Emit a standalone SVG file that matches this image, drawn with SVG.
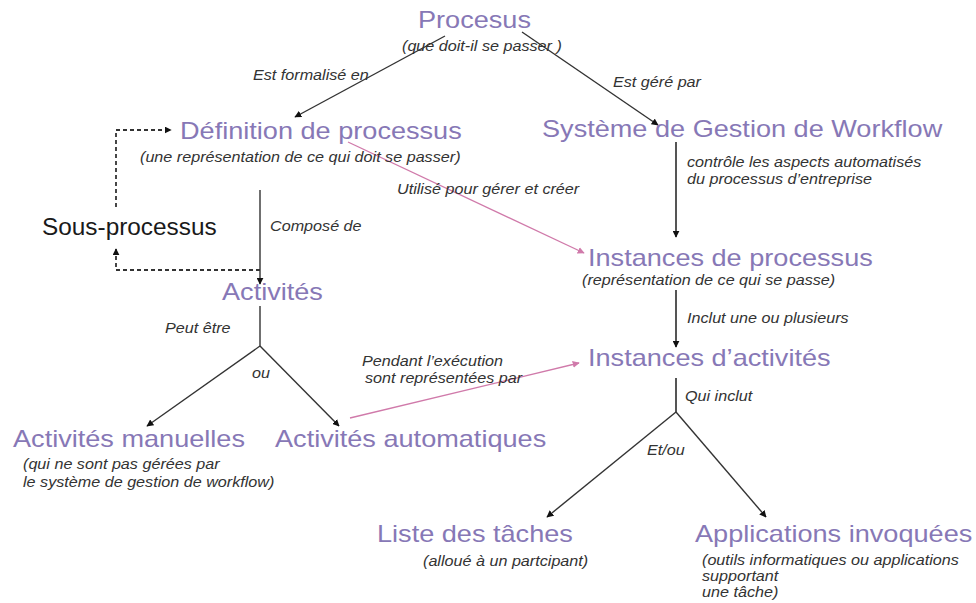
<svg xmlns="http://www.w3.org/2000/svg" width="976" height="603" viewBox="0 0 976 603">
<style>
.t{font-family:"Liberation Sans",Arial,sans-serif;font-size:24px;fill:#8778b6}
.s{font-family:"Liberation Sans",Arial,sans-serif;font-size:14.3px;font-style:italic;fill:#333}
.b{font-family:"Liberation Sans",Arial,sans-serif;font-size:23px;fill:#1a1a1a}
.ln{stroke:#333;stroke-width:1.4;fill:none}
.gr{stroke:#555;stroke-width:2;fill:none}
.pk{stroke:#d07aaa;stroke-width:1.3;fill:none}
.ds{stroke:#333;stroke-width:1.8;fill:none;stroke-dasharray:4 3}
</style>
<defs>
<marker id="ah" viewBox="0 0 10 10" refX="9" refY="5" markerWidth="7" markerHeight="7" markerUnits="userSpaceOnUse" orient="auto"><path d="M0,0 L10,5 L0,10 z" fill="#111"/></marker>
<marker id="ap" viewBox="0 0 10 10" refX="9" refY="5" markerWidth="7" markerHeight="7" markerUnits="userSpaceOnUse" orient="auto"><path d="M0,0 L10,5 L0,10 z" fill="#d07aaa"/></marker>
</defs>
<rect width="976" height="603" fill="#fff"/>
<g id="connectors">
<line class="ln" x1="445" y1="36" x2="295" y2="117" marker-end="url(#ah)"/>
<line class="ln" x1="522" y1="32" x2="658" y2="125" marker-end="url(#ah)"/>
<line class="ln" x1="260" y1="190" x2="260" y2="284" marker-end="url(#ah)"/>
<line class="gr" x1="676" y1="142" x2="676" y2="237" marker-end="url(#ah)"/>
<line class="pk" x1="348" y1="142" x2="584" y2="253" marker-end="url(#ap)"/>
<line class="gr" x1="676" y1="290" x2="676" y2="347" marker-end="url(#ah)"/>
<polyline class="ds" points="260,270 116,270 116,249" marker-end="url(#ah)"/>
<polyline class="ds" points="116,207 116,130 171,130" marker-end="url(#ah)"/>
<line class="ln" x1="260" y1="306" x2="260" y2="346"/>
<line class="ln" x1="260" y1="346" x2="147" y2="426" marker-end="url(#ah)"/>
<line class="ln" x1="260" y1="346" x2="339" y2="426" marker-end="url(#ah)"/>
<line class="pk" x1="350" y1="418" x2="579" y2="363" marker-end="url(#ap)"/>
<line class="gr" x1="676" y1="378" x2="676" y2="412"/>
<line class="ln" x1="676" y1="412" x2="547" y2="517" marker-end="url(#ah)"/>
<line class="ln" x1="676" y1="412" x2="766" y2="517" marker-end="url(#ah)"/>
<text class="s" transform="translate(253,80) scale(1.13,1)">Est formalisé en</text>
<text class="s" transform="translate(613,87) scale(1.13,1)">Est géré par</text>
<text class="s" transform="translate(687,167) scale(1.13,1)">contrôle les aspects automatisés</text>
<text class="s" transform="translate(687,184) scale(1.13,1)">du processus d’entreprise</text>
<text class="s" transform="translate(397,194) scale(1.13,1)">Utilisé pour gérer et créer</text>
<text class="s" transform="translate(270,231) scale(1.13,1)">Composé de</text>
<text class="s" transform="translate(165,333) scale(1.13,1)">Peut être</text>
<text class="s" transform="translate(252,378) scale(1.13,1)">ou</text>
<text class="s" transform="translate(687,323) scale(1.13,1)">Inclut une ou plusieurs</text>
<text class="s" transform="translate(362,366) scale(1.13,1)">Pendant l’exécution</text>
<text class="s" transform="translate(365,383) scale(1.13,1)">sont représentées par</text>
<text class="s" transform="translate(685,401) scale(1.13,1)">Qui inclut</text>
<text class="s" transform="translate(647,455) scale(1.13,1)">Et/ou</text>
</g>
<g id="procesus">
<text class="t" transform="translate(418,28) scale(1.13,1)">Procesus</text>
<text class="s" transform="translate(402,51) scale(1.13,1)">(que doit-il se passer )</text>
</g>
<g id="definition">
<text class="t" transform="translate(180,139) scale(1.13,1)">Définition de processus</text>
<text class="s" transform="translate(140,162) scale(1.13,1)">(une représentation de ce qui doit se passer)</text>
</g>
<g id="systeme">
<text class="t" transform="translate(542,137) scale(1.13,1)">Système de Gestion de Workflow</text>
</g>
<g id="sous-processus">
<text class="b" transform="translate(42,235) scale(1.06,1)">Sous-processus</text>
</g>
<g id="instances-processus">
<text class="t" transform="translate(588,266) scale(1.13,1)">Instances de processus</text>
<text class="s" transform="translate(582,285) scale(1.13,1)">(représentation de ce qui se passe)</text>
</g>
<g id="activites">
<text class="t" transform="translate(222,300) scale(1.13,1)">Activités</text>
</g>
<g id="instances-activites">
<text class="t" transform="translate(588,366) scale(1.13,1)">Instances d’activités</text>
</g>
<g id="activites-manuelles">
<text class="t" transform="translate(13,447) scale(1.13,1)">Activités manuelles</text>
<text class="s" transform="translate(23,469) scale(1.13,1)">(qui ne sont pas gérées par</text>
<text class="s" transform="translate(23,487) scale(1.13,1)">le système de gestion de workflow)</text>
</g>
<g id="activites-automatiques">
<text class="t" transform="translate(275,447) scale(1.13,1)">Activités automatiques</text>
</g>
<g id="liste-taches">
<text class="t" transform="translate(377,542) scale(1.13,1)">Liste des tâches</text>
<text class="s" transform="translate(423,566) scale(1.13,1)">(alloué à un partcipant)</text>
</g>
<g id="applications">
<text class="t" transform="translate(695,542) scale(1.13,1)">Applications invoquées</text>
<text class="s" transform="translate(702,565) scale(1.13,1)">(outils informatiques ou applications</text>
<text class="s" transform="translate(702,581) scale(1.13,1)">supportant</text>
<text class="s" transform="translate(702,597) scale(1.13,1)">une tâche)</text>
</g>
</svg>
